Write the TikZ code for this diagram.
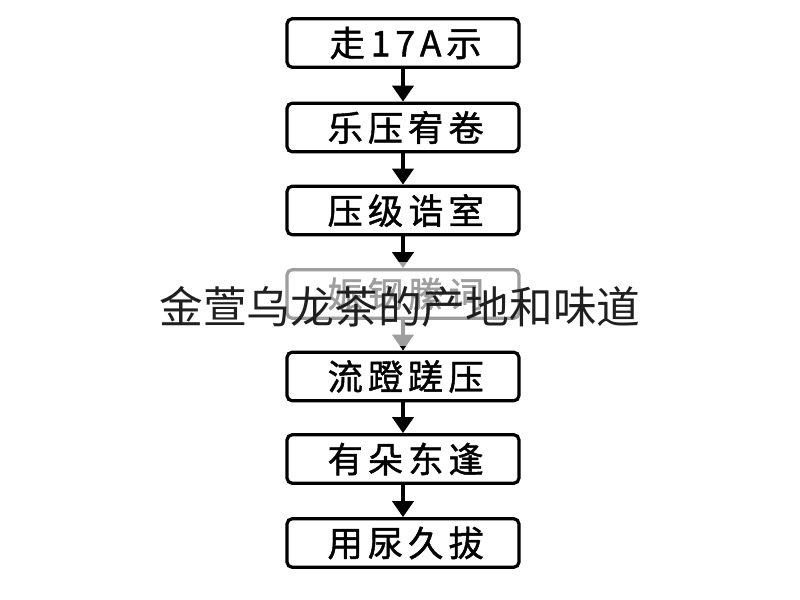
\documentclass[tikz,border=0pt]{standalone}
\usepackage{fontspec}
\newfontfamily\cjk{Noto Sans CJK SC}
\newfontfamily\cjkb[FakeBold=1.2,LetterSpace=14]{Noto Sans CJK SC}
\usetikzlibrary{arrows.meta}
\begin{document}
\begin{tikzpicture}[x=0.75pt,y=-0.75pt,
  stepbox/.style={draw=black,line width=2.4pt,rounded corners=4pt,minimum width=174pt,minimum height=36.5pt,inner sep=0pt,font=\cjkb\fontsize{26.5}{28}\selectfont,fill=white},
  flow/.style={line width=2.4pt,-{Triangle[width=16pt,length=12pt]}},
  title/.style={font=\cjk\fontsize{32.8}{36}\selectfont,text=black!88}]
\useasboundingbox[fill=white] (0,0) rectangle (800,600);
\node[stepbox] (b1) at (403,43) {\hspace{4pt}走\,17A示};
\node[stepbox] (b2) at (403,127.5) {\hspace{4pt}乐压宥卷};
\node[stepbox] (b3) at (403,210.5) {\hspace{4pt}压级诰室};
\node[stepbox] (b4) at (403,294) {\hspace{4pt}娠钢縢词};
\node[stepbox] (b5) at (403,376.5) {\hspace{4pt}流蹬蹉压};
\node[stepbox] (b6) at (403,459) {\hspace{4pt}有朵东逢};
\node[stepbox] (b7) at (403,543) {\hspace{4pt}用尿久拔};
\draw[flow] (b1) -- (b2);
\draw[flow] (b2) -- (b3);
\draw[flow] (b3) -- (b4);
\draw[flow] (b4) -- (b5);
\draw[flow] (b5) -- (b6);
\draw[flow] (b6) -- (b7);
\fill[white,opacity=0.62] (150,262) rectangle (650,346);
\node[title] (t) at (400,307) {金萱乌龙茶的产地和味道};
\end{tikzpicture}
\end{document}
